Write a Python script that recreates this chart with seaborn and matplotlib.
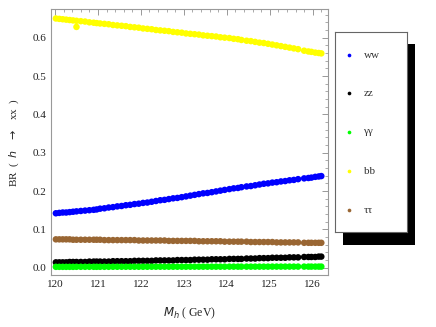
# BR(h -> xx) vs M_h scatter, Mathematica-like frame with shadowed legend

import numpy as np
import pandas as pd
import seaborn as sns
import matplotlib.pyplot as plt
from matplotlib.patches import Rectangle
from matplotlib.ticker import MultipleLocator, FormatStrFormatter

# Data
mh = [120.02, 120.10, 120.18, 120.26, 120.34, 120.42,
      120.50, 120.60, 120.70, 120.80, 120.90, 120.97,
      121.05, 121.15, 121.25, 121.35, 121.45, 121.55, 121.65, 121.75, 121.85, 121.95,
      122.05, 122.15, 122.25, 122.35, 122.45, 122.55, 122.65, 122.75, 122.85, 122.95,
      123.05, 123.15, 123.25, 123.35, 123.45, 123.55, 123.65, 123.75, 123.85, 123.95,
      124.06, 124.16, 124.26, 124.34,
      124.46, 124.56, 124.66, 124.76, 124.86, 124.96, 125.06, 125.16, 125.26, 125.36,
      125.46, 125.56, 125.66,
      125.80, 125.90, 125.97,
      126.06, 126.14, 126.20]

br_ww = [0.142, 0.143, 0.144, 0.144, 0.145, 0.146,
         0.147, 0.148, 0.149, 0.150, 0.151, 0.152,
         0.154, 0.155, 0.157, 0.158, 0.160, 0.161, 0.163, 0.164, 0.166, 0.167,
         0.169, 0.170, 0.172, 0.174, 0.176, 0.177, 0.179, 0.181, 0.182, 0.184,
         0.186, 0.188, 0.190, 0.192, 0.194, 0.195, 0.197, 0.199, 0.201, 0.203,
         0.205, 0.207, 0.208, 0.210,
         0.212, 0.213, 0.215, 0.217, 0.219, 0.220, 0.222, 0.223, 0.225, 0.226,
         0.228, 0.229, 0.231,
         0.233, 0.234, 0.235,
         0.237, 0.238, 0.239]

br_zz = [0.014, 0.014, 0.014, 0.014, 0.015, 0.015,
         0.015, 0.015, 0.015, 0.016, 0.016, 0.016,
         0.016, 0.016, 0.016, 0.017, 0.017, 0.017, 0.017, 0.017, 0.018, 0.018,
         0.018, 0.018, 0.018, 0.019, 0.019, 0.019, 0.019, 0.019, 0.020, 0.020,
         0.020, 0.020, 0.021, 0.021, 0.021, 0.021, 0.022, 0.022, 0.022, 0.022,
         0.023, 0.023, 0.023, 0.023,
         0.024, 0.024, 0.024, 0.025, 0.025, 0.025, 0.026, 0.026, 0.026, 0.026,
         0.027, 0.027, 0.027,
         0.028, 0.028, 0.028,
         0.028, 0.029, 0.029]

br_aa = [0.0023, 0.0023, 0.0023, 0.0023, 0.0023, 0.0023,
         0.0024, 0.0024, 0.0024, 0.0024, 0.0024, 0.0024,
         0.0024, 0.0024, 0.0024, 0.0025, 0.0025, 0.0025, 0.0025, 0.0025, 0.0025, 0.0025,
         0.0025, 0.0025, 0.0026, 0.0026, 0.0026, 0.0026, 0.0026, 0.0026, 0.0026, 0.0026,
         0.0026, 0.0027, 0.0027, 0.0027, 0.0027, 0.0027, 0.0027, 0.0027, 0.0027, 0.0027,
         0.0028, 0.0028, 0.0028, 0.0028,
         0.0028, 0.0028, 0.0028, 0.0028, 0.0028, 0.0028, 0.0029, 0.0029, 0.0029, 0.0029,
         0.0029, 0.0029, 0.0029,
         0.0029, 0.0029, 0.0029,
         0.0029, 0.0029, 0.0029]

br_bb = [0.650, 0.649, 0.648, 0.647, 0.646, 0.645,
         0.644, 0.643, 0.642, 0.640, 0.639, 0.638,
         0.637, 0.636, 0.635, 0.633, 0.632, 0.631, 0.630, 0.628, 0.627, 0.626,
         0.624, 0.623, 0.622, 0.620, 0.619, 0.618, 0.617, 0.615, 0.614, 0.613,
         0.611, 0.610, 0.609, 0.608, 0.606, 0.605, 0.604, 0.603, 0.601, 0.600,
         0.599, 0.597, 0.596, 0.594,
         0.592, 0.591, 0.589, 0.587, 0.586, 0.584, 0.582, 0.580, 0.578, 0.576,
         0.574, 0.572, 0.570,
         0.566, 0.564, 0.563,
         0.561, 0.560, 0.559]

br_tautau = [0.074, 0.074, 0.074, 0.074, 0.074, 0.073,
             0.073, 0.073, 0.073, 0.073, 0.073, 0.073,
             0.073, 0.072, 0.072, 0.072, 0.072, 0.072, 0.072, 0.072, 0.072, 0.071,
             0.071, 0.071, 0.071, 0.071, 0.071, 0.071, 0.070, 0.070, 0.070, 0.070,
             0.070, 0.070, 0.070, 0.069, 0.069, 0.069, 0.069, 0.069, 0.069, 0.068,
             0.068, 0.068, 0.068, 0.068,
             0.068, 0.067, 0.067, 0.067, 0.067, 0.067, 0.067, 0.066, 0.066, 0.066,
             0.066, 0.066, 0.066,
             0.065, 0.065, 0.065,
             0.065, 0.065, 0.065]

# one stray bb point
bb_extra_x = [120.50]
bb_extra_y = [0.628]

channels = ["ww", "zz", "γγ", "bb", "ττ"]
colors = ["#0000ff", "#000000", "#00ff00", "#ffff00", "#996633"]

series = {"ww": br_ww, "zz": br_zz, "γγ": br_aa, "bb": br_bb, "ττ": br_tautau}
rows = []
for ch in channels:
    for x, y in zip(mh, series[ch]):
        rows.append((x, y, ch))
for x, y in zip(bb_extra_x, bb_extra_y):
    rows.append((x, y, "bb"))
df = pd.DataFrame(rows, columns=["mh", "br", "channel"])

sns.set_style("white")
plt.rcParams['font.family'] = ['Liberation Serif', 'DejaVu Serif']

fig = plt.figure(figsize=(4.36, 3.27), dpi=100)
ax = fig.add_axes([0.117, 0.159, 0.6353, 0.8126])

sns.scatterplot(data=df, x="mh", y="br", hue="channel", hue_order=channels,
                palette=colors, s=22, marker='o', linewidth=0, ax=ax, legend=False)

ax.set_xlim(119.907, 126.356)
ax.set_ylim(-0.019, 0.674)
ax.xaxis.set_major_locator(MultipleLocator(1))
ax.xaxis.set_minor_locator(MultipleLocator(0.2))
ax.yaxis.set_major_locator(MultipleLocator(0.1))
ax.yaxis.set_minor_locator(MultipleLocator(0.02))
ax.yaxis.set_major_formatter(FormatStrFormatter('%.1f'))
ax.tick_params(which='both', direction='in', top=True, right=True,
               color='#888888', labelsize=8, labelcolor='#222222')
ax.tick_params(which='major', length=4, width=0.6)
ax.tick_params(which='minor', length=2, width=0.5)
for sp in ax.spines.values():
    sp.set_color('#999999')
    sp.set_linewidth(0.8)

ax.set_xlabel(r"$M_h$ ( GeV)", fontsize=8.5, labelpad=12)
ax.set_ylabel(r"BR  (  $h$   $\rightarrow$   xx  )", fontsize=8, labelpad=8)

# legend with drop shadow
fig.patches.append(Rectangle((0.786, 0.2508), 0.1658, 0.6137, transform=fig.transFigure,
                             facecolor='black', edgecolor='none', zorder=0))
leg = fig.add_axes([0.7677, 0.2905, 0.1651, 0.6107])
leg.set_zorder(3)
leg.set_xlim(0, 1)
leg.set_ylim(0, 1)
leg.set_xticks([])
leg.set_yticks([])
leg.set_facecolor('white')
for sp in leg.spines.values():
    sp.set_color('#666666')
    sp.set_linewidth(0.8)
leg_y = [0.886, 0.696, 0.501, 0.305, 0.110]
for ch, c, yy in zip(channels, colors, leg_y):
    leg.scatter([0.2], [yy], s=7, color=c, linewidth=0)
    leg.text(0.40, yy, ch, va='center', ha='left', fontsize=8, color='#333333')

fig.savefig("out.png", dpi=100)
